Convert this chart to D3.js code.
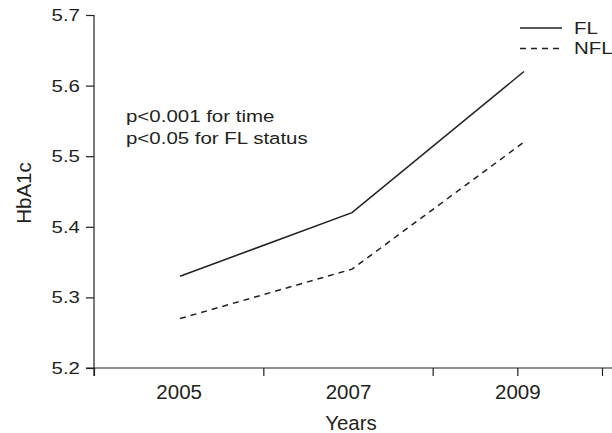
<!DOCTYPE html>
<html>
<head>
<meta charset="utf-8">
<script src="https://cdn.jsdelivr.net/npm/d3@7"></script>
<style>
  body { margin: 0; background: #fff; }
  text { font-family: "Liberation Sans", Arial, sans-serif; fill: #231f20; }
</style>
</head>
<body>
<svg id="chart" width="612" height="433"></svg>
<script>
// data
var years = [2005, 2007, 2009];
var flValues = [5.33, 5.42, 5.62];
var nflValues = [5.27, 5.34, 5.52];
var yTicks = [5.2, 5.3, 5.4, 5.5, 5.6, 5.7];
var xTicks = [2004, 2005, 2006, 2007, 2008, 2009, 2010];
var xLabels = [2005, 2007, 2009];
var notes = ["p<0.001 for time", "p<0.05 for FL status"];
var legendNames = ["FL", "NFL"];

var svg = d3.select("#chart");
var width = 612, height = 433;
var ink = "#231f20";
var bigFont = 20.5;   // x labels and axis titles
var smallFont = 17.2; // y ticks, notes, legend (drawn a bit wider)
var stretch = 1.19;

// turn x/y of a text into a transform so it can be widened
function widen(sel, s) {
    sel.each(function () {
        var t = d3.select(this);
        var x = +t.attr("x") || 0, y = +t.attr("y") || 0;
        t.attr("x", 0).attr("y", 0)
            .attr("transform", "translate(" + x + "," + y + ") scale(" + s + ",1)");
    });
}

// Scaling:
var xScale = d3.scaleLinear().domain([2004, 2010]).range([94, 610]);
var xAxisScale = d3.scaleLinear().domain([2004, 2010]).range([94, 602]);
var yScale = d3.scaleLinear().domain([5.2, 5.7]).range([368, 15]);

// y axis
var yAxis = svg.append("g")
    .attr("transform", "translate(" + xScale(2004) + ",0)")
    .call(d3.axisLeft(yScale).tickValues(yTicks).tickSize(8).tickSizeOuter(0).tickPadding(6)
        .tickFormat(d3.format(".1f")));
yAxis.select(".domain").remove();
yAxis.selectAll("line").attr("stroke", ink).attr("stroke-width", 1.2);
yAxis.selectAll("text").attr("font-size", smallFont).attr("font-family", null).attr("fill", ink);
widen(yAxis.selectAll("text"), stretch);

// x axis, ticks only at the year boundaries and at 2009
var xAxis = svg.append("g")
    .attr("transform", "translate(0," + yScale(5.2) + ")")
    .call(d3.axisBottom(xAxisScale).tickValues(xTicks).tickSize(8).tickSizeOuter(0).tickPadding(1)
        .tickFormat(function (d) { return xLabels.indexOf(d) >= 0 ? d : ""; }));
xAxis.select(".domain").remove();
xAxis.selectAll(".tick line")
    .attr("stroke", ink)
    .attr("stroke-width", 1.2)
    .attr("y2", function (d) { return (d == 2005 || d == 2007) ? 0 : 8; });
xAxis.selectAll("text").attr("font-size", bigFont).attr("font-family", null)
    .attr("dy", "0.71em").attr("y", 16).attr("fill", ink);

// axis lines crossing at the corner
svg.append("line")
    .attr("x1", xScale(2004)).attr("x2", xScale(2004))
    .attr("y1", yScale(5.7)).attr("y2", yScale(5.2) + 8)
    .attr("stroke", ink).attr("stroke-width", 1.2);
svg.append("line")
    .attr("x1", xScale(2004) - 8).attr("x2", width)
    .attr("y1", yScale(5.2)).attr("y2", yScale(5.2))
    .attr("stroke", ink).attr("stroke-width", 1.2);

// axis titles
svg.append("text")
    .attr("x", 351).attr("y", 430)
    .attr("text-anchor", "middle")
    .attr("font-size", bigFont)
    .text("Years");

svg.append("text")
    .attr("transform", "translate(31,193) rotate(-90)")
    .attr("text-anchor", "middle")
    .attr("font-size", bigFont)
    .text("HbA1c");

// lines
var line = d3.line()
    .x(function (d, i) { return xScale(years[i]); })
    .y(function (d) { return yScale(d); });

svg.append("path")
    .datum(flValues)
    .attr("fill", "none")
    .attr("stroke", ink)
    .attr("stroke-width", 1.5)
    .attr("d", line);

svg.append("path")
    .datum(nflValues)
    .attr("fill", "none")
    .attr("stroke", ink)
    .attr("stroke-width", 1.5)
    .attr("stroke-dasharray", "6,5")
    .attr("d", line);

// p-value note
var noteText = svg.selectAll(".note")
    .data(notes)
    .enter().append("text")
    .attr("class", "note")
    .attr("x", 126)
    .attr("y", function (d, i) { return 121.5 + i * 22; })
    .attr("font-size", smallFont)
    .text(function (d) { return d; });
widen(noteText, stretch);

// legend
var legend = svg.selectAll(".legend")
    .data(legendNames)
    .enter().append("g")
    .attr("class", "legend")
    .attr("transform", function (d, i) { return "translate(520," + (28 + i * 20.5) + ")"; });

legend.append("line")
    .attr("x1", 0).attr("x2", 42)
    .attr("stroke", ink)
    .attr("stroke-width", 1.5)
    .attr("stroke-dasharray", function (d, i) { return i == 1 ? "6,5" : null; });

var legendText = legend.append("text")
    .attr("x", 54).attr("y", 5.5)
    .attr("font-size", smallFont)
    .text(function (d) { return d; });
widen(legendText, stretch);
</script>
</body>
</html>
